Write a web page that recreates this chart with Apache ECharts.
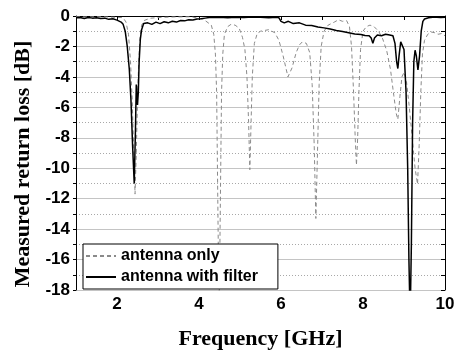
<!DOCTYPE html>
<html>
<head>
<meta charset="utf-8">
<script src="https://cdn.jsdelivr.net/npm/echarts@6/dist/echarts.min.js"></script>
<style>
  html, body { margin: 0; padding: 0; background: #fff; }
  #mainChart { width: 457px; height: 351px; }
</style>
</head>
<body>
<div id="mainChart"></div>
<script>
// antenna only (gray dashed)
var freqOnly = [1.0, 1.3, 1.6, 1.9, 2.1, 2.15, 2.22, 2.28, 2.33, 2.37, 2.41, 2.44, 2.47, 2.5, 2.53, 2.56, 2.6, 2.66, 2.8,
    3.0, 3.4, 3.8, 4.1, 4.25, 4.3, 4.36, 4.4, 4.43, 4.45, 4.47, 4.49, 4.51, 4.53, 4.55, 4.58, 4.62, 4.7, 4.78, 4.88, 4.98,
    5.06, 5.12, 5.17, 5.21, 5.24, 5.27, 5.3, 5.35, 5.42, 5.5, 5.6, 5.7, 5.85, 5.95, 6.05, 6.17, 6.27, 6.37, 6.45, 6.52,
    6.62, 6.7, 6.76, 6.81, 6.85, 6.89, 6.93, 6.98, 7.05, 7.15, 7.3, 7.4, 7.5, 7.6, 7.67, 7.72, 7.77, 7.81, 7.84, 7.87,
    7.9, 7.94, 8.0, 8.08, 8.17, 8.27, 8.38, 8.48, 8.58, 8.67, 8.75, 8.81, 8.85, 8.9, 8.95, 9.0, 9.06, 9.13, 9.2, 9.27,
    9.33, 9.37, 9.41, 9.45, 9.5, 9.58, 9.66, 9.75, 9.83, 9.92, 10.0];
var lossOnly = [-0.05, -0.06, -0.05, -0.08, -0.1, -0.12, -0.4, -1.2, -3.0, -5.5, -9.0, -11.7, -9.0, -5.5, -3.0, -1.5, -0.6, -0.3, -0.15,
    -0.1, -0.06, -0.05, -0.2, -0.5, -0.6, -1.2, -2.5, -5.0, -10.0, -15.0, -19.0, -15.0, -10.0, -5.0, -2.5, -1.2, -0.7, -0.55, -0.6, -0.8,
    -1.4, -2.2, -4.0, -7.0, -10.1, -7.0, -4.0, -1.8, -1.15, -1.0, -0.95, -0.9, -1.1, -1.6, -2.6, -4.0, -3.4, -2.4, -1.9, -1.7,
    -1.8, -2.4, -4.5, -8.5, -13.3, -9.0, -4.5, -2.0, -1.0, -0.6, -0.4, -0.25, -0.35, -0.3, -0.7, -2.0, -5.0, -8.0, -9.8, -8.0,
    -5.0, -2.2, -1.0, -0.7, -0.6, -0.7, -1.0, -1.5, -2.3, -3.5, -5.2, -6.4, -6.8, -5.3, -4.0, -3.7, -4.3, -6.0, -8.0, -10.0,
    -11.05, -8.5, -5.0, -2.5, -1.6, -1.2, -1.05, -1.1, -1.2, -1.15, -1.3];

// antenna with filter (black solid)
var freqFilter = [1.0, 1.1, 1.2, 1.3, 1.4, 1.5, 1.6, 1.7, 1.8, 1.9, 2.0, 2.1, 2.15, 2.2, 2.25, 2.3, 2.34, 2.38, 2.42, 2.45, 2.47,
    2.49, 2.5, 2.52, 2.54, 2.57, 2.6, 2.65, 2.75, 2.85, 2.95, 3.05, 3.15, 3.25, 3.35, 3.45, 3.55, 3.65, 3.75, 3.85, 3.95,
    4.05, 4.15, 4.25, 4.35, 4.5, 4.7, 4.9, 5.1, 5.3, 5.5, 5.7, 5.9, 5.95, 6.0, 6.08, 6.18, 6.3, 6.45, 6.6, 6.75, 6.9, 7.05,
    7.2, 7.35, 7.5, 7.65, 7.8, 7.95, 8.05, 8.15, 8.2, 8.24, 8.28, 8.35, 8.45, 8.55, 8.65, 8.73, 8.78, 8.82, 8.85, 8.88,
    8.92, 8.96, 9.0, 9.05, 9.09, 9.12, 9.15, 9.18, 9.21, 9.24, 9.27, 9.3, 9.34, 9.38, 9.42, 9.46, 9.5, 9.6, 9.7, 9.8, 9.9, 10.0];
var lossFilter = [-0.12, -0.1, -0.16, -0.1, -0.14, -0.12, -0.16, -0.14, -0.22, -0.18, -0.27, -0.4, -0.55, -1.0, -2.0, -3.5, -5.5, -8.5, -11.0, -7.5, -4.5,
    -4.6, -5.85, -5.0, -3.0, -1.5, -0.9, -0.5, -0.45, -0.55, -0.4, -0.5, -0.38, -0.45, -0.35, -0.4, -0.3, -0.32, -0.25, -0.26, -0.2,
    -0.18, -0.14, -0.1, -0.1, -0.08, -0.12, -0.08, -0.1, -0.07, -0.08, -0.11, -0.08, -0.12, -0.35, -0.45, -0.35, -0.5, -0.45, -0.6, -0.62, -0.72, -0.78,
    -0.85, -0.95, -1.02, -1.1, -1.18, -1.22, -1.28, -1.3, -1.45, -1.8, -1.45, -1.25, -1.3, -1.2, -1.25, -1.3, -1.8, -3.0, -3.45, -2.6,
    -1.7, -1.6, -2.2, -5.0, -10.0, -16.0, -20.0, -15.0, -7.0, -3.0, -2.25, -2.6, -3.55, -2.6, -1.0, -0.35, -0.2, -0.12, -0.08, -0.08, -0.1, -0.08];

var xTicks = [2, 4, 6, 8, 10];
var seriesNames = ['antenna only', 'antenna with filter'];

var summaryChart;
var option;

function zip(xs, ys) {
    var out = [];
    for (var i = 0; i < xs.length; i++) {
        out.push([xs[i], ys[i]]);
    }
    return out;
}

function initChart() {
    var sans = 'Liberation Sans, Arial, sans-serif';
    var serif = 'Liberation Serif, Times New Roman, serif';
    var blackLine = {show: true, lineStyle: {color: '#000', width: 1}};
    option = {
        animation: false,
        backgroundColor: '#fff',
        grid: {left: 76, right: 12, top: 16, bottom: 61, containLabel: false, outerBoundsMode: 'none'},
        legend: {
            orient: 'vertical',
            left: 83,
            top: 244,
            data: seriesNames,
            itemWidth: 30,
            itemHeight: 14,
            itemGap: 3,
            padding: [3, 20, 3, 2],
            backgroundColor: '#fff',
            borderColor: '#000',
            borderWidth: 1,
            borderRadius: 0,
            itemStyle: {color: 'rgba(0,0,0,0)', borderWidth: 0, opacity: 0},
            textStyle: {color: '#000', fontSize: 16, fontWeight: 'bold', fontFamily: sans, lineHeight: 18}
        },
        xAxis: [
            {
                type: 'value',
                min: 1,
                max: 10,
                interval: 1,
                name: 'Frequency [GHz]',
                nameLocation: 'middle',
                nameGap: 38,
                nameTextStyle: {color: '#000', fontSize: 22, fontWeight: 'bold', fontFamily: serif},
                axisLine: blackLine,
                axisTick: {show: true, inside: false, length: 4, lineStyle: {color: '#000'}},
                axisLabel: {
                    margin: 6,
                    formatter: function (v) {
                        return xTicks.indexOf(v) >= 0 ? String(v) : '';
                    },
                    color: '#000', fontSize: 17, fontWeight: 'bold', fontFamily: sans
                },
                splitLine: {show: false}
            },
            {
                type: 'value',
                position: 'top',
                min: 1,
                max: 10,
                interval: 1,
                axisLine: blackLine,
                axisTick: {show: true, inside: true, length: 4, lineStyle: {color: '#000'}},
                axisLabel: {show: false},
                splitLine: {show: false}
            }
        ],
        yAxis: [
            {
                type: 'value',
                min: -18,
                max: 0,
                interval: 2,
                name: 'Measured return loss [dB]',
                nameLocation: 'middle',
                nameGap: 41,
                nameTextStyle: {color: '#000', fontSize: 22, fontWeight: 'bold', fontFamily: serif, padding: [0, 22, 0, 0]},
                axisLine: blackLine,
                axisTick: {show: true, inside: false, length: 3, lineStyle: {color: '#000'}},
                minorTick: {show: true, splitNumber: 2, length: 3, lineStyle: {color: '#000'}},
                axisLabel: {
                    margin: 6,
                    color: '#000', fontSize: 17, fontWeight: 'bold', fontFamily: sans
                },
                splitLine: {show: true, lineStyle: {color: '#c4c4c4', width: 1}},
                minorSplitLine: {show: true, lineStyle: {color: '#a8a8a8', width: 1, type: [1, 2]}}
            },
            {
                type: 'value',
                position: 'right',
                min: -18,
                max: 0,
                interval: 1,
                axisLine: blackLine,
                axisTick: {show: true, inside: true, length: 4, lineStyle: {color: '#000'}},
                axisLabel: {show: false},
                splitLine: {show: false}
            }
        ],
        series: [
            {
                name: seriesNames[0],
                type: 'line',
                xAxisIndex: 0,
                yAxisIndex: 0,
                data: zip(freqOnly, lossOnly),
                symbol: 'none',
                clip: true,
                z: 2,
                lineStyle: {color: '#8a8a8a', width: 1, type: [4, 3]},
                itemStyle: {color: '#8a8a8a'}
            },
            {
                name: seriesNames[1],
                type: 'line',
                xAxisIndex: 0,
                yAxisIndex: 0,
                data: zip(freqFilter, lossFilter),
                symbol: 'none',
                clip: true,
                z: 3,
                lineStyle: {color: '#000', width: 1.5},
                itemStyle: {color: '#000'}
            }
        ]
    };
}

initChart();
summaryChart = echarts.init(document.getElementById('mainChart'));
summaryChart.setOption(option);
</script>
</body>
</html>
